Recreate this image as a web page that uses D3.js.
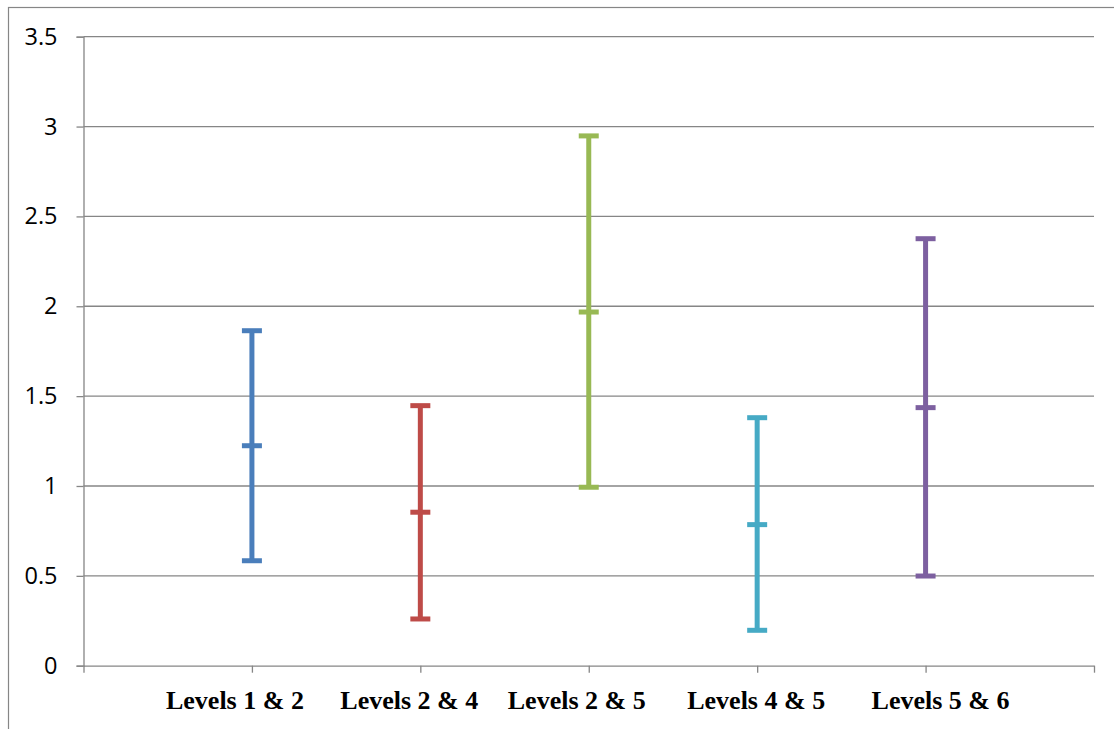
<!DOCTYPE html>
<html>
<head>
<meta charset="utf-8">
<script src="https://cdn.jsdelivr.net/npm/d3@7"></script>
<style>
  html, body { margin: 0; padding: 0; background: #fff; }
  svg { display: block; }
</style>
</head>
<body>
<svg id="chart" width="1114" height="729"></svg>
<script>
// Pairwise comparisons: each bar shows low bound, estimate and high bound
const categories = ["Levels 1 & 2", "Levels 2 & 4", "Levels 2 & 5", "Levels 4 & 5", "Levels 5 & 6"];
const lowValues  = [0.584, 0.260, 0.993, 0.197, 0.499];
const midValues  = [1.224, 0.854, 1.968, 0.785, 1.436];
const highValues = [1.864, 1.447, 2.948, 1.380, 2.376];
const colors = ["#4a7ebb", "#be4b48", "#98b954", "#46aac5", "#7d60a0"];
const yTicks = [0, 0.5, 1, 1.5, 2, 2.5, 3, 3.5];
const yTickLabels = ["0", "0.5", "1", "1.5", "2", "2.5", "3", "3.5"];
// small horizontal nudges applied to the category labels
const labelShift = [-17, -11, -12, -1, 15];

const svg = d3.select("#chart");
const plot = { left: 83.5, right: 1094, top: 36.7, bottom: 665.7 };
const gridColor = "#868686";

// outer chart frame
svg.append("rect")
  .attr("x", 8.5).attr("y", 7.5)
  .attr("width", 1114).attr("height", 760)
  .attr("fill", "none").attr("stroke", gridColor).attr("stroke-width", 1.2);

const x = d3.scaleLinear().domain([0, categories.length + 1]).range([plot.left, plot.right]);
const y = d3.scaleLinear().domain([0, 3.5]).range([plot.bottom, plot.top]);

// horizontal gridlines
svg.append("g")
  .selectAll("line")
  .data(yTicks.filter(d => d > 0))
  .join("line")
  .attr("x1", plot.left).attr("x2", plot.right)
  .attr("y1", d => y(d)).attr("y2", d => y(d))
  .attr("stroke", gridColor).attr("stroke-width", 1.3);

// y axis
const yAxis = d3.axisLeft(y)
  .tickValues(yTicks)
  .tickFormat((d, i) => yTickLabels[i])
  .tickSize(7)
  .tickPadding(19);
const gy = svg.append("g").attr("transform", `translate(${plot.left},0)`).call(yAxis);
gy.select(".domain").attr("stroke", gridColor).attr("stroke-width", 1.3);
gy.selectAll(".tick line").attr("stroke", gridColor).attr("stroke-width", 1.3);
gy.selectAll(".tick text")
  .attr("fill", "#000")
  .style("font-family", "'Open Sans', 'Noto Sans', sans-serif")
  .style("font-size", "23.5px");

// x axis with ticks at each category slot
const xAxis = d3.axisBottom(x)
  .tickValues(d3.range(0, categories.length + 2))
  .tickFormat("")
  .tickSize(7)
  .tickSizeOuter(0);
const gx = svg.append("g").attr("transform", `translate(0,${plot.bottom})`).call(xAxis);
gx.select(".domain").attr("stroke", gridColor).attr("stroke-width", 1.3);
gx.selectAll(".tick line").attr("stroke", gridColor).attr("stroke-width", 1.3);

// category labels
svg.append("g")
  .selectAll("text")
  .data(categories)
  .join("text")
  .attr("x", (d, i) => x(i + 1) + labelShift[i])
  .attr("y", 709)
  .attr("text-anchor", "middle")
  .style("font-family", "'Liberation Serif', 'Times New Roman', serif")
  .style("font-weight", "bold")
  .style("font-size", "26px")
  .attr("fill", "#000")
  .text(d => d);

// error bars
const rows = categories.map((c, i) => ({ c, i, lo: lowValues[i], mid: midValues[i], hi: highValues[i], color: colors[i] }));
const capHalf = 10;
const bars = svg.append("g").selectAll("g").data(rows).join("g");

bars.append("line")
  .attr("x1", d => x(d.i + 1)).attr("x2", d => x(d.i + 1))
  .attr("y1", d => y(d.hi)).attr("y2", d => y(d.lo))
  .attr("stroke", d => d.color).attr("stroke-width", 5);

["lo", "mid", "hi"].forEach(key => {
  bars.append("line")
    .attr("x1", d => x(d.i + 1) - capHalf).attr("x2", d => x(d.i + 1) + capHalf)
    .attr("y1", d => y(d[key])).attr("y2", d => y(d[key]))
    .attr("stroke", d => d.color).attr("stroke-width", 5);
});
</script>
</body>
</html>
